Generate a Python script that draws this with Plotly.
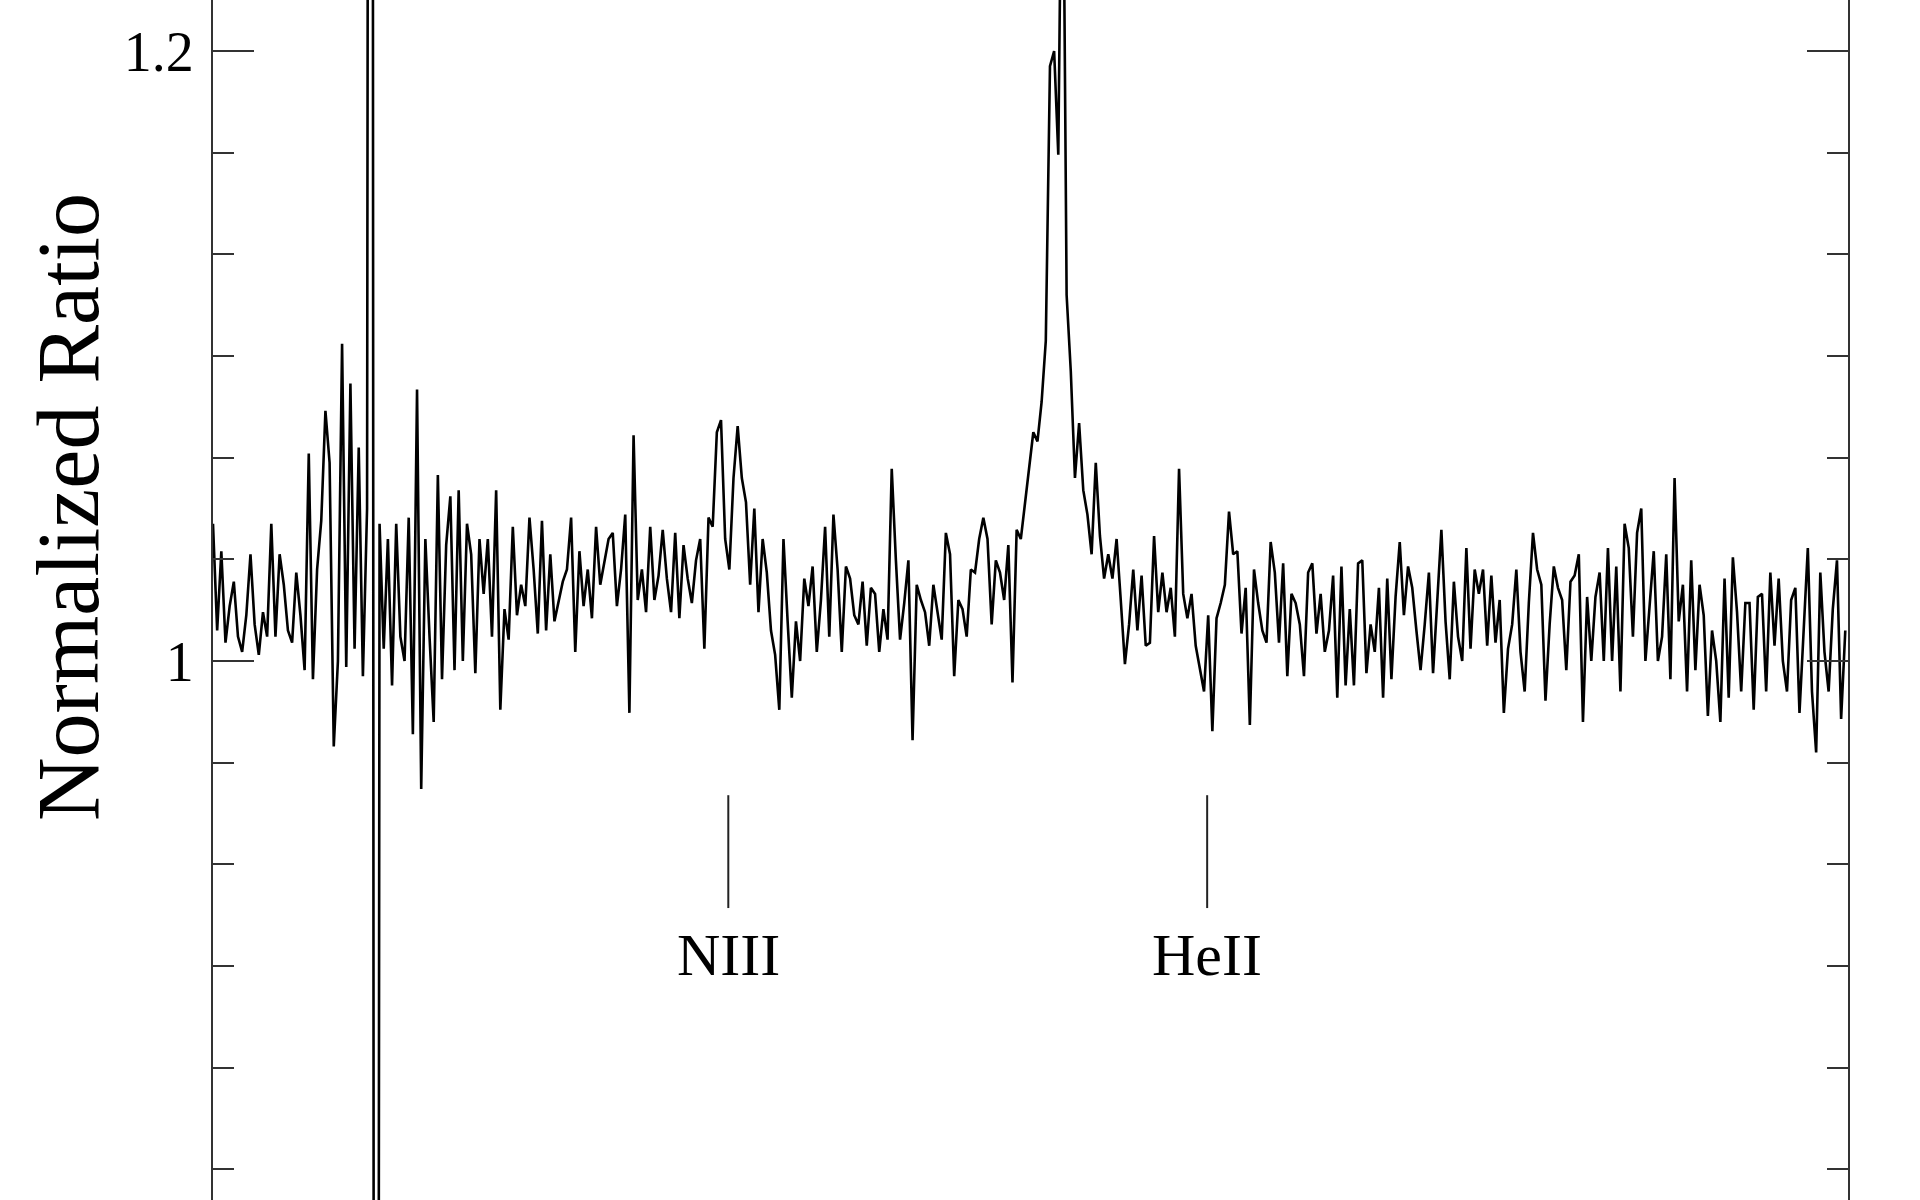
import numpy as np
import plotly.graph_objects as go

# ---- Data (normalized ratio spectrum) ----
WAVE_START = 4590.5   # Angstrom at the left frame
WAVE_STEP = 0.4       # sampling step (Angstrom)

FLUX_A = [1.045, 1.010, 1.036, 1.006, 1.018, 1.026, 1.008, 1.003, 1.015, 1.035,
          1.012, 1.002, 1.016, 1.008, 1.045, 1.008, 1.035, 1.025, 1.010, 1.006,
          1.029, 1.015, 0.997, 1.068, 0.994, 1.030, 1.046, 1.082, 1.065, 0.972,
          1.000, 1.104, 0.998, 1.091, 1.004, 1.070, 0.995, 1.050, 2.200, -0.200,
          1.045, 1.004, 1.040, 0.992, 1.045, 1.008, 1.000, 1.047, 0.976, 1.089]
FLUX_B = [0.958, 1.040, 1.008, 0.980, 1.061, 0.994, 1.038, 1.054, 0.997, 1.056,
          1.000, 1.045, 1.035, 0.996, 1.040, 1.022, 1.040, 1.008, 1.056, 0.984,
          1.017, 1.007, 1.044, 1.015, 1.025, 1.018, 1.047, 1.030, 1.009, 1.046,
          1.010, 1.035, 1.013, 1.020, 1.026, 1.030, 1.047, 1.003, 1.036, 1.018,
          1.030, 1.014, 1.044, 1.025, 1.032, 1.040, 1.042, 1.018]
FLUX_C = [1.030, 1.048, 0.983, 1.074, 1.020, 1.030, 1.016, 1.044, 1.020, 1.028,
          1.043, 1.027, 1.016, 1.042, 1.014, 1.038, 1.027, 1.019, 1.033, 1.040,
          1.004, 1.047, 1.044, 1.075, 1.079, 1.040, 1.030, 1.060, 1.077, 1.060,
          1.052, 1.025, 1.050, 1.016, 1.040, 1.029, 1.010, 1.002, 0.984, 1.040,
          1.013, 0.988, 1.013, 1.000, 1.027, 1.018, 1.031, 1.003]
FLUX_D = [1.020, 1.044, 1.008, 1.048, 1.030, 1.003, 1.031, 1.027, 1.015, 1.012,
          1.026, 1.005, 1.024, 1.022, 1.003, 1.017, 1.007, 1.063, 1.033, 1.007,
          1.019, 1.033, 0.974, 1.025, 1.020, 1.016, 1.005, 1.025, 1.016, 1.007,
          1.042, 1.035, 0.995, 1.020, 1.017, 1.008, 1.030, 1.029, 1.040, 1.047,
          1.040, 1.012, 1.033, 1.029, 1.020, 1.038, 0.993, 1.043]
FLUX_E = [1.040, 1.052, 1.062, 1.075, 1.072, 1.085, 1.105, 1.195, 1.200, 1.166,
          1.300, 1.120, 1.095, 1.060, 1.078, 1.056, 1.048, 1.035, 1.065, 1.041,
          1.027, 1.035, 1.027, 1.040, 1.020, 0.999, 1.012, 1.030, 1.010, 1.028,
          1.005]
FLUX_F = [1.006, 1.041, 1.016, 1.029, 1.016, 1.024, 1.008, 1.063, 1.022, 1.014,
          1.022, 1.005, 0.997, 0.990, 1.015, 0.977, 1.014, 1.019, 1.025, 1.049,
          1.035, 1.036, 1.009, 1.024, 0.979, 1.030, 1.019, 1.010, 1.006, 1.039,
          1.029, 1.006, 1.032, 0.995, 1.022, 1.019, 1.012, 0.995, 1.029, 1.032,
          1.009, 1.022, 1.003, 1.010, 1.028, 0.988, 1.031, 0.992]
FLUX_G = [1.017, 0.992, 1.032, 1.033, 0.996, 1.012, 1.003, 1.024, 0.988, 1.027,
          0.994, 1.021, 1.039, 1.015, 1.031, 1.024, 1.010, 0.997, 1.012, 1.029,
          0.996, 1.019, 1.043, 1.013, 0.994, 1.026, 1.008, 1.000, 1.037, 1.004,
          1.030, 1.022, 1.030, 1.005, 1.028, 1.006, 1.020, 0.983, 1.004, 1.012,
          1.030, 1.003, 0.990, 1.019, 1.042, 1.030, 1.025, 0.987]
FLUX_H = [1.012, 1.031, 1.024, 1.020, 0.997, 1.026, 1.028, 1.035, 0.980, 1.021,
          1.000, 1.021, 1.029, 1.000, 1.037, 1.000, 1.031, 0.990, 1.045, 1.037,
          1.008, 1.042, 1.050, 1.000, 1.017, 1.036, 1.000, 1.008, 1.035, 0.994,
          1.060, 1.013, 1.025, 0.990, 1.033, 0.997, 1.025, 1.015, 0.982, 1.010,
          1.000, 0.980, 1.027, 0.988, 1.034, 1.016, 0.990, 1.019]
FLUX_I = [1.019, 0.984, 1.021, 1.022, 0.990, 1.029, 1.005, 1.027, 1.000, 0.990,
          1.020, 1.024, 0.983, 1.008, 1.037, 0.990, 0.970, 1.029, 1.003, 0.990,
          1.017, 1.033, 0.981, 1.010]

LINE_NAMES = ["NIII", "HeII"]
LINE_WAVES = [4640.0, 4686.0]
MARK_TOP = 0.956
MARK_BOTTOM = 0.919
LABEL_Y = 0.9036

X_RANGE = [4590.5, 4747.56]
Y_RANGE = [0.82328, 1.21672]

flux = FLUX_A + FLUX_B + FLUX_C + FLUX_D + FLUX_E + FLUX_F + FLUX_G + FLUX_H + FLUX_I
wave = WAVE_START + WAVE_STEP * np.arange(len(flux))

SERIF = "Liberation Serif, Times New Roman, serif"
AXC = "#333333"

fig = go.Figure()
fig.add_trace(go.Scatter(x=wave, y=flux, mode="lines",
                         line=dict(color="black", width=2.6), hoverinfo="skip"))

annotations = []
for name, w in zip(LINE_NAMES, LINE_WAVES):
    fig.add_trace(go.Scatter(x=[w, w], y=[MARK_TOP, MARK_BOTTOM], mode="lines",
                             line=dict(color="#222222", width=2), hoverinfo="skip"))
    annotations.append(dict(x=w, y=LABEL_Y, xref="x", yref="y", text=name,
                            showarrow=False, xanchor="center", yanchor="middle",
                            font=dict(family=SERIF, size=60, color="black")))

annotations.append(dict(x=-0.0887, y=0.5775, xref="paper", yref="paper",
                        text="Normalized Ratio", textangle=-90, showarrow=False,
                        xanchor="center", yanchor="middle",
                        font=dict(family=SERIF, size=88, color="black")))

fig.update_layout(
    width=1920, height=1200,
    margin=dict(l=213, r=72, t=0, b=0, pad=0),
    paper_bgcolor="white", plot_bgcolor="white",
    showlegend=False,
    hovermode=False,
    annotations=annotations,
    xaxis=dict(range=X_RANGE, showticklabels=False, ticks="", showline=False,
               showgrid=False, zeroline=False),
    yaxis=dict(range=Y_RANGE, tick0=0, dtick=0.2, ticks="inside", ticklen=41,
               tickwidth=2, tickcolor=AXC, showline=True, linewidth=2,
               linecolor=AXC, mirror="all", showgrid=False, zeroline=False,
               ticklabelstandoff=6,
               tickfont=dict(family=SERIF, size=56, color="black"),
               minor=dict(tick0=0, dtick=0.2 / 6, ticks="inside", ticklen=21,
                          tickwidth=2, tickcolor=AXC, showgrid=False)),
)

fig.write_html(
    "out.html",
    config={"displayModeBar": False},
    post_script="document.body.style.margin='0px';document.body.style.overflow='hidden';",
)
